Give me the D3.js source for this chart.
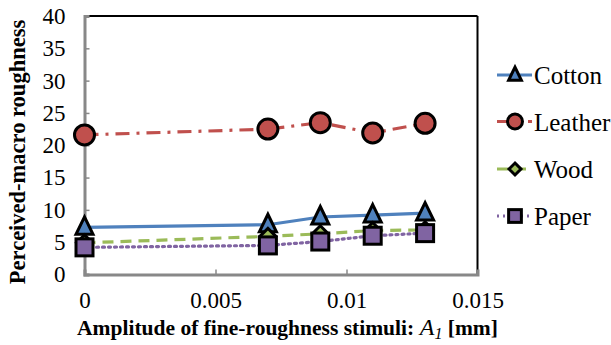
<!DOCTYPE html>
<html><head><meta charset="utf-8">
<script src="https://cdn.jsdelivr.net/npm/d3@7/dist/d3.min.js"></script>
</head><body style="margin:0">
<svg id="c" width="611" height="345" font-family="Liberation Serif"></svg>
<script>
const amplitudes = [0, 0.007, 0.009, 0.011, 0.013];
const cotton  = [7.3, 7.7, 8.9, 9.2, 9.5];
const leather = [21.6, 22.5, 23.5, 21.9, 23.4];
const wood    = [4.9, 5.9, 6.3, 6.8, 6.9];
const paper   = [4.2, 4.5, 5.1, 6.0, 6.4];
const xTicks = [0, 0.005, 0.01, 0.015];
const xTickLabels = ["0", "0.005", "0.01", "0.015"];
const yTicks = [0, 5, 10, 15, 20, 25, 30, 35, 40];
const seriesNames = ["Cotton", "Leather", "Wood", "Paper"];

const FONT = "Liberation Serif";

const series = [
  {name: seriesNames[0], values: cotton,  color: "#4F81BD", dash: null, marker: "triangle"},
  {name: seriesNames[1], values: leather, color: "#C0504D", dash: "14,7,3,7", marker: "circle"},
  {name: seriesNames[2], values: wood,    color: "#9BBB59", dash: "11,7", marker: "diamond"},
  {name: seriesNames[3], values: paper,   color: "#8064A2", dash: "2,4", marker: "square"}
];

const svg = d3.select("#c");
const L = 84.5, R = 477.5, T = 16, B = 274.5;
const x = d3.scaleLinear().domain([0, 0.015]).range([L, R]);
const y = d3.scaleLinear().domain([0, 40]).range([B, T]);

svg.append("line").attr("x1", L).attr("x2", R).attr("y1", T).attr("y2", T).attr("stroke", "#000").attr("stroke-width", 2);
svg.append("line").attr("x1", R).attr("x2", R).attr("y1", T).attr("y2", B).attr("stroke", "#000").attr("stroke-width", 2);

const yAxis = svg.append("g").attr("transform", `translate(${L},0)`)
  .call(d3.axisLeft(y).tickValues(yTicks).tickSize(-5).tickPadding(19));
const xAxis = svg.append("g").attr("transform", `translate(0,${B})`)
  .call(d3.axisBottom(x).tickValues(xTicks).tickFormat((d,i)=>xTickLabels[i]).tickSize(-5).tickPadding(17));
[yAxis, xAxis].forEach(g => {
  g.attr("font-family", FONT).attr("font-size", 23);
  g.select(".domain").attr("stroke", "#888").attr("stroke-width", 3);
  g.selectAll(".tick line").attr("stroke", "#888").attr("stroke-width", 1.5);
  g.selectAll(".tick text").attr("fill", "#000").attr("font-family", FONT).attr("font-size", 23);
});
yAxis.selectAll(".tick").filter(d => d === 0 || d === 40).select("line").remove();
xAxis.selectAll(".tick").filter(d => d === 0 || d === 0.015).select("line").remove();

const line = d3.line().x((d,i)=>x(amplitudes[i])).y(d=>y(d));

function drawMarker(g, type, cx, cy, color, s) {
  const k = s || 1;
  if (type === "circle") {
    g.append("circle").attr("cx", cx).attr("cy", cy).attr("r", 10*k).attr("fill", color).attr("stroke", "#000").attr("stroke-width", 3);
  } else if (type === "triangle") {
    const h = 10*k;
    g.append("path").attr("d", `M${cx},${cy-h*1.05}L${cx+h*0.85},${cy+h*0.7}L${cx-h*0.85},${cy+h*0.7}Z`)
      .attr("fill", color).attr("stroke", "#000").attr("stroke-width", 3).attr("stroke-linejoin", "miter");
  } else if (type === "diamond") {
    const h = 8*k;
    g.append("path").attr("d", `M${cx},${cy-h}L${cx+h},${cy}L${cx},${cy+h}L${cx-h},${cy}Z`)
      .attr("fill", color).attr("stroke", "#000").attr("stroke-width", 3);
  } else {
    const h = 8.5*k;
    g.append("rect").attr("x", cx-h).attr("y", cy-h).attr("width", 2*h).attr("height", 2*h)
      .attr("fill", color).attr("stroke", "#000").attr("stroke-width", 3);
  }
}

series.forEach(s => {
  svg.append("path").datum(s.values).attr("d", line).attr("fill", "none")
    .attr("stroke", s.color).attr("stroke-width", 3.2)
    .attr("stroke-dasharray", s.dash).attr("stroke-linecap", s.dash === "2,4" ? "round" : "butt");
});
series.forEach(s => {
  const g = svg.append("g");
  s.values.forEach((v,i) => drawMarker(g, s.marker, x(amplitudes[i]), y(v), s.color));
});

const ly = [75, 121.5, 169, 216];
series.forEach((s,i) => {
  const g = svg.append("g");
  g.append("line").attr("x1", 497).attr("x2", 532).attr("y1", ly[i]).attr("y2", ly[i])
    .attr("stroke", s.color).attr("stroke-width", 3.2).attr("stroke-dasharray", s.dash);
  drawMarker(g, s.marker, 515, ly[i], s.color, 0.75);
  g.append("text").attr("x", 534).attr("y", ly[i]+9).attr("font-size", 25).attr("font-family", FONT).text(s.name);
});

const xt = svg.append("text").attr("x", 287.5).attr("y", 335).attr("text-anchor", "middle")
  .attr("font-size", 21.5).attr("font-weight", "bold").attr("font-family", FONT);
xt.append("tspan").text("Amplitude of fine-roughness stimuli:");
xt.append("tspan").attr("font-style", "italic").attr("font-weight", "normal").attr("font-size", 24).text(" A");
xt.append("tspan").attr("font-style", "italic").attr("font-weight", "normal").attr("font-size", 16).attr("dy", 4).text("1");
xt.append("tspan").attr("dy", -4).text(" [mm]");

svg.append("text").attr("transform", "translate(25,152) rotate(-90)").attr("text-anchor", "middle")
  .attr("font-size", 22.5).attr("font-weight", "bold").attr("font-family", FONT).text("Perceived-macro roughness");
</script>
</body></html>
